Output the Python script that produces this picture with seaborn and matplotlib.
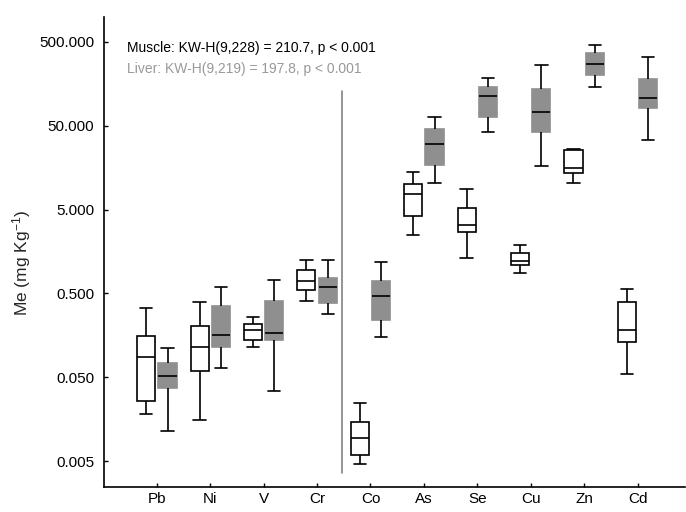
import numpy as np
import pandas as pd
import matplotlib
matplotlib.use("Agg")
import matplotlib.pyplot as plt
import seaborn as sns

# metals on the x axis
metals = ["Pb", "Ni", "V", "Cr", "Co", "As", "Se", "Cu", "Zn", "Cd"]

# five-number summaries: min, q1, median, q3, max (mg/kg)
muscle = [
    [0.018, 0.026, 0.088, 0.156, 0.332],
    [0.0154, 0.0588, 0.115, 0.206, 0.398],
    [0.1156, 0.138, 0.1815, 0.214, 0.261],
    [0.403, 0.549, 0.697, 0.951, 1.25],
    [0.0046, 0.00594, 0.00933, 0.0145, 0.0248],
    [2.49, 4.23, 7.62, 10.0, 14.2],
    [1.33, 2.72, 3.27, 5.18, 8.73],
    [0.883, 1.09, 1.22, 1.51, 1.89],
    [10.5, 13.8, 15.8, 25.9, 26.7],
    [0.0546, 0.133, 0.183, 0.392, 0.565],
]
liver = [
    [0.0113, 0.0369, 0.052, 0.0745, 0.111],
    [0.0644, 0.1156, 0.161, 0.357, 0.601],
    [0.0342, 0.139, 0.170, 0.409, 0.723],
    [0.286, 0.388, 0.591, 0.757, 1.25],
    [0.152, 0.243, 0.470, 0.709, 1.19],
    [10.4, 17.2, 30.1, 45.4, 63.1],
    [42.2, 64.2, 114.3, 146.6, 186.0],
    [16.6, 41.8, 72.4, 137.0, 264.0],
    [144.0, 204.0, 273.0, 373.0, 464.0],
    [34.1, 82.2, 108.0, 182.0, 328.0],
]

ytick_vals = [0.005, 0.05, 0.5, 5, 50, 500]
ytick_labels = ["0.005", "0.050", "0.500", "5.000", "50.000", "500.000"]

muscle_txt = "Muscle: KW-H(9,228) = 210.7, p < 0.001"
liver_txt = "Liver: KW-H(9,219) = 197.8, p < 0.001"

# long table: the 5 summary values per box give exact quartiles
rows = []
for i, m in enumerate(metals):
    for v in muscle[i]:
        rows.append((m, "Muscle", v))
    for v in liver[i]:
        rows.append((m, "Liver", v))
df = pd.DataFrame(rows, columns=["Metal", "Tissue", "Me"])

sns.set_style("ticks")
plt.rcParams["font.family"] = ["Liberation Sans", "DejaVu Sans"]
plt.rcParams["mathtext.default"] = "regular"

fig = plt.figure(figsize=(6.86, 5.12), dpi=100)
ax = fig.add_axes([0.1516, 0.0488, 0.847, 0.918])

gray = "#8f8f8f"
sns.boxplot(data=df, x="Metal", y="Me", hue="Tissue", order=metals,
            hue_order=["Muscle", "Liver"],
            palette={"Muscle": "white", "Liver": gray},
            whis=(0, 100), width=0.8, gap=0.15, linewidth=1.2,
            linecolor="black", log_scale=True, legend=False,
            capwidths=0.23, ax=ax)

# liver boxes have no dark outline
for p in ax.patches:
    fc = p.get_facecolor()
    if fc[0] < 0.9:
        p.set_edgecolor(fc)

# separator between the two groups of metals
ax.plot([3.47, 3.47], [0.0036, 130], color="#777777", lw=1.1)

ax.set_ylim(0.00245, 993)
ax.set_xlim(-0.99, 9.89)
ax.set_yticks(ytick_vals)
ax.set_yticklabels(ytick_labels)
ax.yaxis.set_minor_locator(matplotlib.ticker.NullLocator())
ax.tick_params(direction="in", length=3, width=1, labelsize=11, colors="black")
ax.tick_params(axis="y", pad=7)
ax.set_xlabel("")
ax.set_ylabel("Me (mg Kg$^{-1}$)", fontsize=12.5)
ax.yaxis.set_label_coords(-0.122, 0.477)
sns.despine(ax=ax)
for s in ["left", "bottom"]:
    ax.spines[s].set_linewidth(1.2)
    ax.spines[s].set_color("black")

ax.text(0.04, 0.934, muscle_txt, transform=ax.transAxes, fontsize=10,
        ha="left", va="center", color="black")
ax.text(0.04, 0.889, liver_txt, transform=ax.transAxes, fontsize=10,
        ha="left", va="center", color="#999999")

fig.savefig("out.png", dpi=100)
